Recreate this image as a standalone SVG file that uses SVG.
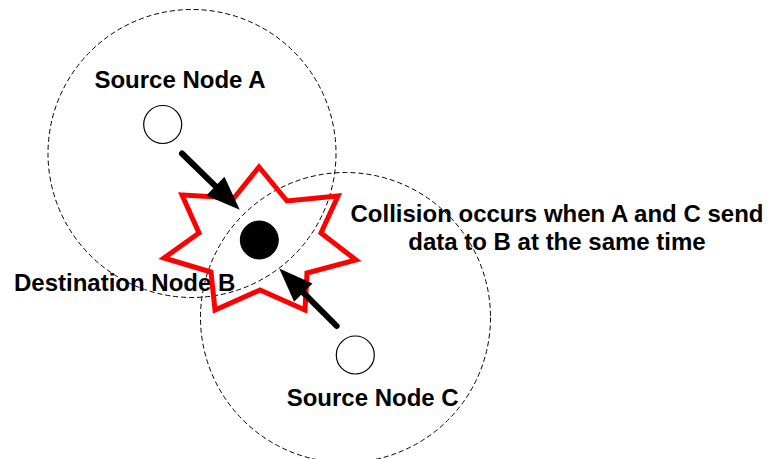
<svg xmlns="http://www.w3.org/2000/svg" width="770" height="459" viewBox="0 0 770 459">
  <style>
    .label { font-family: "Liberation Sans", Arial, sans-serif; font-size: 24px; font-weight: bold; fill: #000; }
    .range { fill: none; stroke: #000; stroke-width: 1; stroke-dasharray: 5 3; }
    .node { fill: #fff; stroke: #000; stroke-width: 1.2; }
    .dest { fill: #000; stroke: #000; stroke-width: 1; }
    .burst { fill: none; stroke: #ff0000; stroke-width: 5; stroke-linejoin: miter; }
    .arrow { fill: none; stroke: #000; stroke-width: 6; stroke-linecap: round; marker-end: url(#head); }
  </style>
  <defs>
    <marker id="head" markerUnits="userSpaceOnUse" markerWidth="34" markerHeight="26" refX="0" refY="13" orient="auto" overflow="visible">
      <path d="M0,0 L34,13 L0,26 Z" fill="#000"/>
    </marker>
  </defs>
  <rect width="770" height="459" fill="#fff"/>

  <!-- text labels -->
  <g id="labels">
    <text class="label" x="180" y="87.5" text-anchor="middle">Source Node A</text>
    <text class="label" x="14" y="291">Destination Node B</text>
    <text class="label" x="557" y="221.7" text-anchor="middle">Collision occurs when A and C send</text>
    <text class="label" x="557" y="250" text-anchor="middle">data to B at the same time</text>
    <text class="label" x="372.7" y="406" text-anchor="middle">Source Node C</text>
  </g>

  <!-- transmission ranges -->
  <g id="range-a"><circle class="range" cx="192" cy="153.5" r="144"/></g>
  <g id="range-c"><circle class="range" cx="345.5" cy="317.5" r="145"/></g>

  <!-- collision burst -->
  <g id="collision">
    <polygon class="burst" points="259,167 287,201 338,196 321,233 356,260 307,273 305,310 260,290 215,310 211,272 164,258 199,233 182,195 234,198"/>
  </g>

  <!-- nodes -->
  <g id="node-a"><circle class="node" cx="162.7" cy="124.5" r="19"/></g>
  <g id="node-b"><circle class="dest" cx="259.3" cy="240" r="19"/></g>
  <g id="node-c"><circle class="node" cx="355.3" cy="355" r="19"/></g>

  <!-- transmissions -->
  <g id="connectors">
    <line class="arrow" x1="182" y1="153.5" x2="215.4" y2="186.1"/>
    <line class="arrow" x1="336.7" y1="326" x2="303.3" y2="292.6"/>
  </g>
</svg>
